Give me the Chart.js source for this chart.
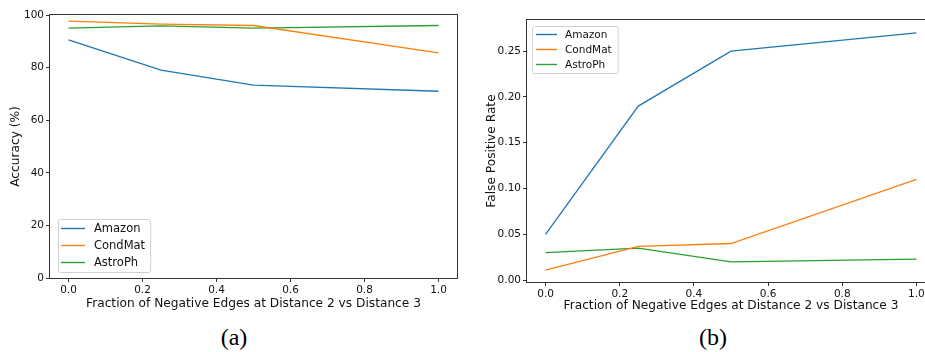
<!DOCTYPE html>
<html>
<head>
<meta charset="utf-8">
<script src="https://cdn.jsdelivr.net/npm/chart.js@4"></script>
<style>
  html, body { margin: 0; padding: 0; background: #fff; overflow: hidden; }
  body { width: 925px; height: 352px; position: relative; }
  canvas { position: absolute; }
  .cap { position: absolute; font-family: "Liberation Serif", "DejaVu Serif", serif; font-size: 24px; line-height: 24px; color: #000; transform: translateX(-50%); }
</style>
</head>
<body>
<canvas id="accChart" width="470" height="315" style="left:0;top:0"></canvas>
<canvas id="fprChart" width="475" height="318" style="left:470px;top:0"></canvas>
<div class="cap" style="left:234px;top:325px">(a)</div>
<div class="cap" style="left:713px;top:325px">(b)</div>
<script>
// Fraction of negative edges at distance 2 vs distance 3
const fractions = [0.0, 0.25, 0.5, 1.0];
const seriesNames = ['Amazon', 'CondMat', 'AstroPh'];
const seriesColors = ['#1f77b4', '#ff7f0e', '#2ca02c'];

// (a) accuracy in %
const accAmazon = [90.5, 79.0, 73.3, 71.0];
const accCondMat = [97.7, 96.5, 96.0, 85.6];
const accAstroPh = [95.0, 95.9, 95.0, 96.0];

// (b) false positive rate
const fprAmazon = [0.05, 0.19, 0.25, 0.27];
const fprCondMat = [0.011, 0.037, 0.040, 0.110];
const fprAstroPh = [0.030, 0.035, 0.020, 0.023];

const xTicks = [0.0, 0.2, 0.4, 0.6, 0.8, 1.0];
const accTicks = [0, 20, 40, 60, 80, 100];
const fprTicks = [0.00, 0.05, 0.10, 0.15, 0.20, 0.25];

const xTitle = 'Fraction of Negative Edges at Distance 2 vs Distance 3';
const tickFont = { family: 'DejaVu Sans', size: 10.5 };
const titleFont = { family: 'DejaVu Sans', size: 12.2 };
const axisColor = '#333';

// box around the whole plot area, like matplotlib spines
const framePlugin = {
    id: 'frame',
    afterDraw(chart) {
        const a = chart.chartArea;
        const ctx = chart.ctx;
        ctx.save();
        ctx.strokeStyle = axisColor;
        ctx.lineWidth = 1;
        ctx.strokeRect(Math.round(a.left) - 0.5, Math.round(a.top) - 0.5,
            Math.round(a.right - a.left) + 1, Math.round(a.bottom - a.top) + 1);
        ctx.restore();
    }
};

// legend drawn inside the plot area
const boxLegend = {
    id: 'boxLegend',
    afterDatasetsDraw(chart, args, opts) {
        const ctx = chart.ctx;
        const a = chart.chartArea;
        ctx.save();
        ctx.font = opts.fontSize + 'px "DejaVu Sans"';
        let textW = 0;
        chart.data.datasets.forEach(ds => { textW = Math.max(textW, ctx.measureText(ds.label).width); });
        const w = opts.padX + opts.lineLen + opts.gap + textW + opts.padX + 2;
        const h = opts.rowH * chart.data.datasets.length + opts.padY * 2;
        const x = a.left + opts.dx;
        const y = opts.fromBottom ? a.bottom - opts.dy - h : a.top + opts.dy;
        ctx.fillStyle = 'rgba(255,255,255,0.85)';
        ctx.strokeStyle = '#d0d0d0';
        ctx.lineWidth = 1;
        ctx.beginPath();
        ctx.roundRect(Math.round(x) + 0.5, Math.round(y) + 0.5, w, h, 2);
        ctx.fill();
        ctx.stroke();
        ctx.textBaseline = 'middle';
        chart.data.datasets.forEach((ds, i) => {
            const cy = y + opts.padY + opts.rowH * (i + 0.5);
            ctx.strokeStyle = ds.borderColor;
            ctx.lineWidth = 1.4;
            ctx.beginPath();
            ctx.moveTo(x + opts.padX, cy);
            ctx.lineTo(x + opts.padX + opts.lineLen, cy);
            ctx.stroke();
            ctx.fillStyle = '#111';
            ctx.fillText(ds.label, x + opts.padX + opts.lineLen + opts.gap, cy + 0.5);
        });
        ctx.restore();
    }
};

function makeDatasets(lists) {
    return lists.map((vals, i) => ({
        label: seriesNames[i],
        data: fractions.map((f, j) => ({ x: f, y: vals[j] })),
        borderColor: seriesColors[i],
        backgroundColor: seriesColors[i],
        borderWidth: 1.3,
        pointRadius: 0,
        tension: 0,
        fill: false
    }));
}

function axisGrid() {
    return { display: true, drawOnChartArea: false, drawTicks: true, tickLength: 4, color: axisColor, lineWidth: 1 };
}

function drawChart(id, lists, cfg) {
    const ctx = document.getElementById(id).getContext('2d');
    return new Chart(ctx, {
        type: 'line',
        data: { datasets: makeDatasets(lists) },
        plugins: [framePlugin, boxLegend],
        options: {
            responsive: false,
            animation: false,
            layout: { padding: { top: cfg.top, right: cfg.right, left: 0, bottom: 0 } },
            plugins: {
                legend: { display: false },
                tooltip: { enabled: false },
                boxLegend: cfg.legend
            },
            scales: {
                x: {
                    type: 'linear',
                    min: -0.05,
                    max: 1.05,
                    border: { display: false },
                    grid: axisGrid(),
                    afterBuildTicks: s => { s.ticks = xTicks.map(v => ({ value: v })); },
                    afterFit: s => { s.height = cfg.xHeight; },
                    ticks: { font: tickFont, color: '#111', padding: 2, maxRotation: 0,
                        callback: v => v.toFixed(1) },
                    title: { display: true, text: xTitle, font: titleFont, color: '#111',
                        padding: { top: 0, bottom: cfg.xTitlePad } }
                },
                y: {
                    min: cfg.yMin,
                    max: cfg.yMax,
                    border: { display: false },
                    grid: axisGrid(),
                    afterBuildTicks: s => { s.ticks = cfg.yTicks.map(v => ({ value: v })); },
                    afterFit: s => { s.width = cfg.yWidth; },
                    ticks: { font: tickFont, color: '#111', padding: 2, callback: cfg.yFormat },
                    title: { display: true, text: cfg.yTitle, font: titleFont, color: '#111',
                        padding: { top: cfg.yTitlePad, bottom: 0 } }
                }
            }
        }
    });
}

drawChart('accChart', [accAmazon, accCondMat, accAstroPh], {
    top: 15, right: 13, xHeight: 37, yWidth: 50,
    xTitlePad: 4, yTitlePad: 9,
    yMin: 0, yMax: 100, yTicks: accTicks, yTitle: 'Accuracy (%)',
    yFormat: v => String(v),
    legend: { fromBottom: true, dx: 8, dy: 6, padX: 3, padY: 1, rowH: 17, lineLen: 24, gap: 9, fontSize: 11.5 }
});

drawChart('fprChart', [fprAmazon, fprCondMat, fprAstroPh], {
    top: 20, right: 10, xHeight: 36, yWidth: 57,
    xTitlePad: 5, yTitlePad: 15,
    yMin: -0.002, yMax: 0.284, yTicks: fprTicks, yTitle: 'False Positive Rate',
    yFormat: v => v.toFixed(2),
    legend: { fromBottom: false, dx: 5, dy: 6, padX: 4, padY: 1, rowH: 15, lineLen: 21, gap: 8, fontSize: 10.5 }
});
</script>
</body>
</html>
